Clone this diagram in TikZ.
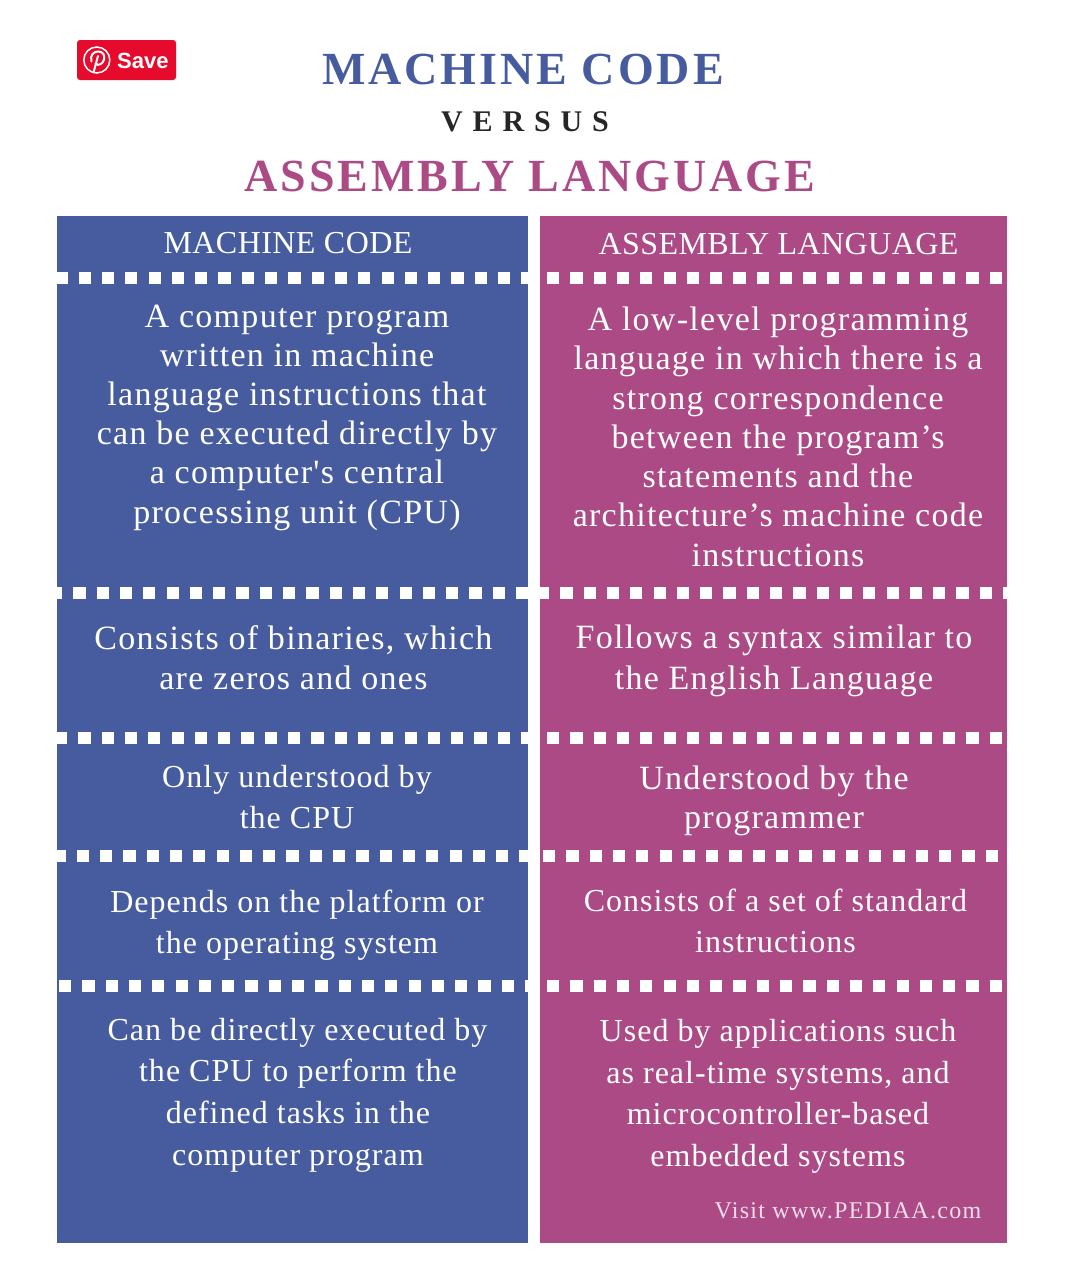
\documentclass[tikz,border=0pt]{standalone}
\usepackage{fontspec}
\setmainfont{Liberation Serif}
\newfontfamily\bodyfont[LetterSpace=3.2]{Liberation Serif}
\newfontfamily\widefont[LetterSpace=3.8]{Liberation Serif}
\newfontfamily\headfont[LetterSpace=1.4]{Liberation Serif}
\newfontfamily\titlefont[LetterSpace=6.5]{Liberation Serif}
\newfontfamily\versusfont[LetterSpace=33]{Liberation Serif}
\newfontfamily\smallfont[LetterSpace=5.5]{Liberation Serif}
\newfontfamily\savefont{Liberation Sans}
\definecolor{bluecol}{HTML}{475C9E}
\definecolor{pinkcol}{HTML}{AB4A85}
\definecolor{pinred}{HTML}{E60B2C}
\definecolor{visit}{HTML}{F3DDEC}
\tikzset{
 body/.style={font=\bodyfont\fontsize{32}{39}\selectfont,text=white,align=center,inner sep=0pt,anchor=base},
 widebody/.style={body,font=\widefont\fontsize{34}{39}\selectfont},
 colhead/.style={font=\headfont\fontsize{32}{39}\selectfont,text=white,align=center,inner sep=0pt,anchor=base},
 dotsq/.style={fill=white,draw=none},
}
% y, left, right, phase
\newcommand{\dotrow}[4]{%
 \begin{scope}
 \clip (#2,#1-8) rectangle (#3,#1+8);
 \foreach \k in {0,...,22} {
  \fill[dotsq] ({#4+23.3*\k},#1-6) rectangle ({#4+23.3*\k+12.2},#1+6);
 }
 \end{scope}}
\newcommand{\bline}[3]{\node[body] at (#1,#2) {#3};}
\newcommand{\wline}[3]{\node[widebody] at (#1,#2) {#3};}
\begin{document}
\begin{tikzpicture}[x=1pt,y=-1pt]
\useasboundingbox (0,0) rectangle (1070,1282);
\fill[white] (0,0) rectangle (1070,1282);
\fill[bluecol] (57,216) rectangle (528,1243);
\fill[pinkcol] (540,216) rectangle (1007,1243);
% Save button
\fill[pinred,rounded corners=3pt] (77,40) rectangle (176,80);
\draw[white,line width=1.5pt] (96.8,60) circle (13);
\draw[white,line width=2pt,line cap=round] (98,56) -- (93.5,72.5);
\draw[white,line width=2pt,line cap=round] (91.5,61.5) .. controls (89.5,55) and (94,51.5) .. (98,51.5) .. controls (103,51.5) and (105,55) .. (104,59.5) .. controls (103,64) and (98,66.5) .. (95.5,63.5);
\node[font=\savefont\bfseries\fontsize{22}{22}\selectfont,text=white,inner sep=0pt,anchor=base west] (save) at (117,68) {Save};
% Titles
\node[font=\titlefont\bfseries\fontsize{46}{46}\selectfont,text=bluecol,inner sep=0pt,anchor=base] (t1) at (523,84) {MACHINE CODE};
\node[font=\versusfont\bfseries\fontsize{30}{30}\selectfont,text=black!85,inner sep=0pt,anchor=base] (t2) at (525,131) {VERSUS};
\node[font=\titlefont\bfseries\fontsize{46}{46}\selectfont,text=pinkcol,inner sep=0pt,anchor=base] (t3) at (530,191) {ASSEMBLY LANGUAGE};
% Dotted rows
\dotrow{278}{57}{528}{55.3}
\dotrow{278}{540}{1007}{547}
\dotrow{593}{57}{528}{50}
\dotrow{593}{540}{1007}{537}
\dotrow{738}{57}{528}{55}
\dotrow{738}{540}{1007}{547}
\dotrow{856}{57}{528}{53.4}
\dotrow{856}{540}{1007}{543}
\dotrow{986}{57}{528}{59}
\dotrow{986}{540}{1007}{547}
% Headers
\node[colhead] (h1) at (288,253) {MACHINE CODE};
\node[colhead] (h2) at (778.5,254) {ASSEMBLY LANGUAGE};
% Left
\wline{297}{327}{A computer program}
\wline{297}{366}{written in machine}
\wline{297}{405}{language instructions that}
\wline{297}{444}{can be executed directly by}
\wline{297}{483}{a computer's central}
\wline{297}{523}{processing unit (CPU)}
\wline{293.5}{649}{Consists of binaries, which}
\wline{293.5}{689}{are zeros and ones}
\bline{297}{787}{Only understood by}
\bline{297}{828}{the CPU}
\bline{297}{912}{Depends on the platform or}
\bline{297}{953}{the operating system}
\bline{297.5}{1040}{Can be directly executed by}
\bline{298}{1081}{the CPU to perform the}
\bline{298}{1123}{defined tasks in the}
\bline{298}{1165}{computer program}
% Right
\wline{778}{330}{A low-level programming}
\wline{778}{369}{language in which there is a}
\wline{778}{409}{strong correspondence}
\wline{778}{448}{between the program’s}
\wline{778}{487}{statements and the}
\wline{778}{526}{architecture’s machine code}
\wline{778}{566}{instructions}
\wline{774}{648}{Follows a syntax similar to}
\wline{774}{689}{the English Language}
\wline{774}{789}{Understood by the}
\wline{774}{828}{programmer}
\bline{775.5}{911}{Consists of a set of standard}
\bline{775.5}{952}{instructions}
\bline{778}{1041}{Used by applications such}
\bline{778}{1083}{as real-time systems, and}
\bline{778}{1124}{microcontroller-based}
\bline{778}{1166}{embedded systems}
\node[font=\smallfont\fontsize{24}{24}\selectfont,text=visit,inner sep=0pt,anchor=base] (v) at (848,1218) {Visit www.PEDIAA.com};
\end{tikzpicture}
\end{document}
